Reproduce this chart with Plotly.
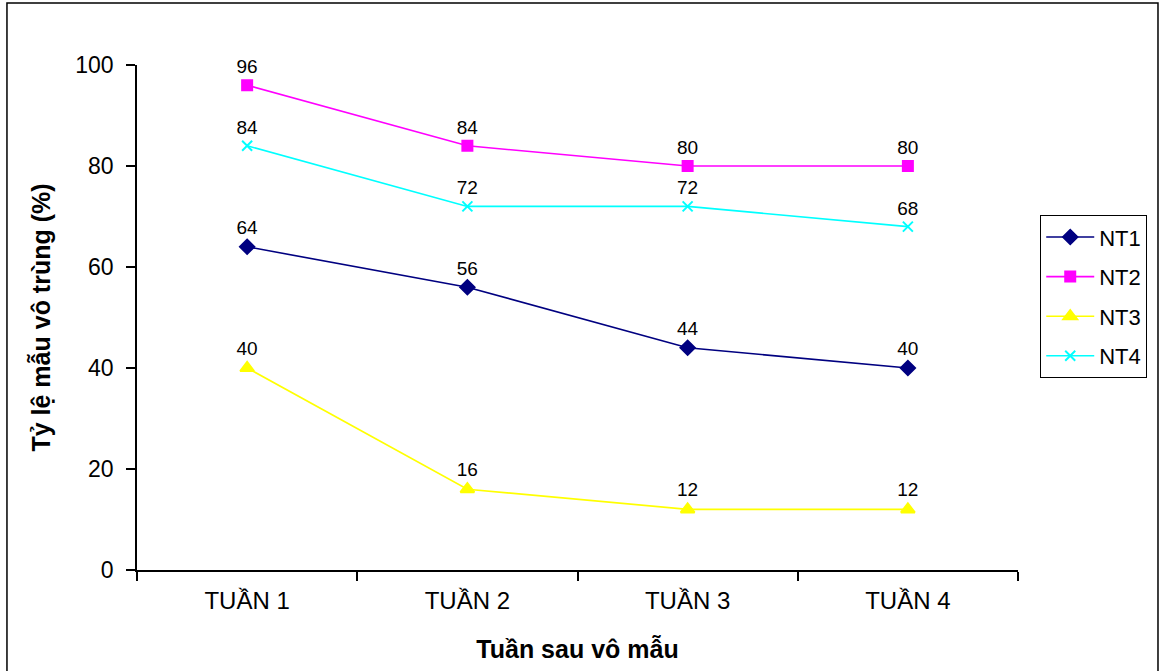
import plotly.graph_objects as go

weeks = ["TUẦN 1", "TUẦN 2", "TUẦN 3", "TUẦN 4"]
nt1 = [64, 56, 44, 40]
nt2 = [96, 84, 80, 80]
nt3 = [40, 16, 12, 12]
nt4 = [84, 72, 72, 68]

series = [
    ("NT1", nt1, "#000080", "diamond", 11),
    ("NT2", nt2, "#FF00FF", "square", 10),
    ("NT3", nt3, "#FFFF00", "triangle-up", 12),
    ("NT4", nt4, "#00FFFF", "x-thin", 10),
]

FONT = "Liberation Sans, Arial, sans-serif"

fig = go.Figure()
for name, vals, color, symbol, size in series:
    fig.add_trace(go.Scatter(
        x=weeks, y=vals, name=name, legendgroup=name,
        mode="lines+markers+text",
        text=[str(v) for v in vals],
        textposition="top center",
        textfont=dict(family=FONT, size=19, color="black"),
        line=dict(color=color, width=1.6),
        marker=dict(symbol=symbol, size=size, color=color,
                    line=dict(color=color, width=2)),
        cliponaxis=False,
    ))

fig.update_layout(
    width=1160, height=671,
    margin=dict(l=137, r=142, t=65, b=101),
    paper_bgcolor="white", plot_bgcolor="white",
    font=dict(family=FONT, color="black"),
    showlegend=True,
    legend=dict(
        x=1.025, y=0.703, xanchor="left", yanchor="top",
        bordercolor="black", borderwidth=1.2,
        font=dict(family=FONT, size=22, color="black"),
        itemwidth=48, tracegroupgap=8,
    ),
    xaxis=dict(
        type="category", range=[-0.5, 3.5],
        showline=True, linecolor="black", linewidth=1.5,
        ticks="outside", tickson="boundaries", ticklen=9,
        tickcolor="black", tickwidth=1.5,
        showgrid=False, zeroline=False,
        tickfont=dict(family=FONT, size=24, color="black"),
        ticklabelstandoff=8,
        title=dict(text="<b>Tuần sau vô mẫu</b>",
                   font=dict(family=FONT, size=25, color="black"),
                   standoff=28),
    ),
    yaxis=dict(
        range=[0, 100], dtick=20,
        showline=True, linecolor="black", linewidth=1.5,
        ticks="outside", ticklen=9, tickcolor="black", tickwidth=1.5,
        showgrid=False, zeroline=False,
        tickfont=dict(family=FONT, size=23, color="black"),
        ticklabelstandoff=8,
        title=dict(text="<b>Tỷ lệ mẫu vô trùng (%)</b>",
                   font=dict(family=FONT, size=25, color="black"),
                   standoff=18),
    ),
)

# outer frame around the whole chart area
fig.add_shape(type="rect", xref="paper", yref="paper",
              x0=-0.1476, x1=1.1589, y0=-0.25, y1=1.1228,
              line=dict(color="black", width=1.5), fillcolor="rgba(0,0,0,0)",
              layer="below")

fig.write_html("out.html")
